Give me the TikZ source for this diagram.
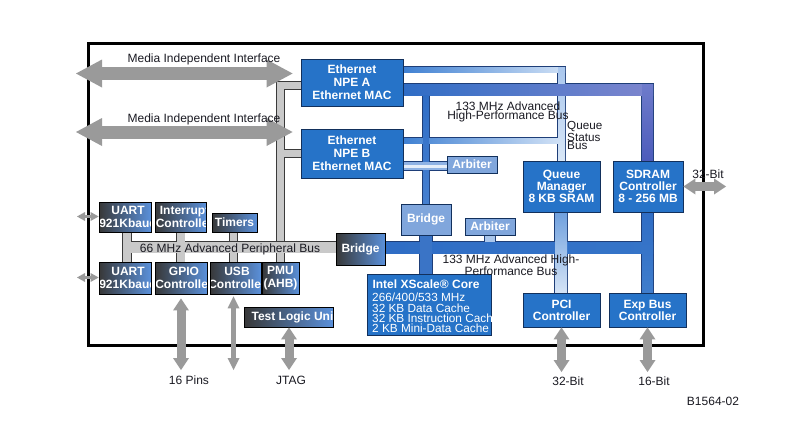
\documentclass[tikz,border=0pt]{standalone}
\usepackage{fontspec}
\setmainfont{Liberation Sans}
\usetikzlibrary{arrows.meta,calc}
\pgfdeclarelayer{buses}
\pgfsetlayers{buses,main}

\definecolor{boxblue}{HTML}{2673C8}
\definecolor{boxline}{HTML}{12305C}
\definecolor{lightbox}{HTML}{80A6DC}
\definecolor{dkL}{HTML}{383838}
\definecolor{dkR}{HTML}{5A90DA}
\definecolor{apbfill}{HTML}{C9C9C9}
\definecolor{apbline}{HTML}{3A3A3A}
\definecolor{arrowgray}{HTML}{9A9A9A}
\definecolor{busline}{HTML}{1E3E78}
\definecolor{txt}{HTML}{1A1A22}
\definecolor{qsA}{RGB}{63,128,210}
\definecolor{qsB}{RGB}{207,224,245}
\definecolor{qsC}{RGB}{169,199,238}
\definecolor{qsD}{RGB}{217,231,247}
\definecolor{bA}{RGB}{47,109,197}
\definecolor{bLight}{RGB}{221,232,246}
\definecolor{bPurp}{RGB}{126,134,206}
\definecolor{pA}{RGB}{110,123,203}
\definecolor{pB}{RGB}{76,92,187}
\definecolor{bB}{RGB}{70,128,208}
\definecolor{bC}{RGB}{53,116,200}
\definecolor{bD}{RGB}{58,116,198}
\definecolor{bE}{RGB}{169,198,236}
\definecolor{bF}{RGB}{111,160,222}
\definecolor{bG}{RGB}{213,228,246}
\definecolor{bH}{RGB}{63,125,204}
\definecolor{bI}{RGB}{143,178,228}
\definecolor{bJ}{RGB}{230,238,249}

\newcommand\cliptxt[2]{\node[text=white, align=center, inner sep=0pt, font=\bfseries\fontsize{12}{12.5}\selectfont] at ([xshift=#1]path picture bounding box.center) {#2};}

\tikzset{
  box/.style={draw=boxline, line width=0.8pt, fill=boxblue, text=white, inner sep=0pt, align=center, font=\bfseries\fontsize{12}{13}\selectfont},
  lbox/.style={box, fill=lightbox},
  dbox/.style={draw=black, line width=0.8pt, left color=dkL, right color=dkR, inner sep=0pt, text=white, align=center, font=\bfseries\fontsize{12}{12.5}\selectfont},
  lbl/.style={inner sep=0pt, text=txt, font=\fontsize{12}{12}\selectfont},
  apbO/.style={draw=apbline, line join=miter},
  apbF/.style={draw=apbfill, line join=miter},
  fatarrow/.style={draw=arrowgray, line width=13pt, {Triangle[length=26pt,width=28pt,line width=0pt]}-{Triangle[length=26pt,width=28pt,line width=0pt]}},
  midarrow/.style={draw=arrowgray, line width=9pt, {Triangle[length=12pt,width=16pt,line width=0pt]}-{Triangle[length=12pt,width=16pt,line width=0pt]}},
  slimarrow/.style={draw=arrowgray, line width=5pt, {Triangle[length=12pt,width=12pt,line width=0pt]}-{Triangle[length=12pt,width=12pt,line width=0pt]}},
  uartarrow/.style={draw=arrowgray, line width=3.5pt, {Triangle[length=8pt,width=9pt,line width=0pt]}-{Triangle[length=8pt,width=9pt,line width=0pt]}}
}

\begin{document}
\begin{tikzpicture}[x=1pt,y=-1pt]
\begin{pgfonlayer}{buses}
\fill[white] (0,0) rectangle (809,431);
\end{pgfonlayer}
\useasboundingbox (0,0) rectangle (809,431);

% ---------- blocks ----------
\path
  node[box, minimum width=102pt, minimum height=47pt] (npeA) at (352,82.5) {Ethernet\\NPE A\\Ethernet MAC}
  node[box, minimum width=102pt, minimum height=49pt] (npeB) at (352,153.5) {Ethernet\\NPE B\\Ethernet MAC}
  node[lbox, minimum width=50pt, minimum height=17pt] (arbU) at (472,164.5) {Arbiter}
  node[box, minimum width=77pt, minimum height=51pt, font=\bfseries\fontsize{12}{12}\selectfont] (qm) at (561.5,186.5) {Queue\\Manager\\8 KB SRAM}
  node[box, minimum width=70pt, minimum height=51pt, font=\bfseries\fontsize{12}{12}\selectfont] (sdram) at (648,186.5) {SDRAM\\Controller\\8 - 256 MB}
  node[lbox, minimum width=50pt, minimum height=31pt] (bridgeU) at (426,219.5) {Bridge}
  node[lbox, minimum width=50pt, minimum height=17pt] (arbL) at (490,226.5) {Arbiter}
  node[dbox, minimum width=49pt, minimum height=32pt] (bridgeL) at (360.5,249) {Bridge}
  node[box, minimum width=77pt, minimum height=34pt, font=\bfseries\fontsize{12}{12}\selectfont] (pci) at (561.5,310) {PCI\\Controller}
  node[box, minimum width=77pt, minimum height=34pt, font=\bfseries\fontsize{12}{12}\selectfont] (exp) at (647.5,310) {Exp Bus\\Controller}
  node[dbox, minimum width=52pt, minimum height=30pt, path picture={\cliptxt{3pt}{UART\\921Kbaud}}] (uart1) at (125,217) {}
  node[dbox, minimum width=51pt, minimum height=30pt, path picture={\cliptxt{4pt}{Interrupt\\Controller}}] (intc) at (180.5,217) {}
  node[dbox, minimum width=45pt, minimum height=19pt] (timers) at (234.5,222.5) {Timers}
  node[dbox, minimum width=52pt, minimum height=32pt, path picture={\cliptxt{3pt}{UART\\921Kbaud}}] (uart2) at (125,278) {}
  node[dbox, minimum width=52pt, minimum height=32pt, path picture={\cliptxt{3pt}{GPIO\\Controller}}] (gpio) at (181,278) {}
  node[dbox, minimum width=51pt, minimum height=32pt, path picture={\cliptxt{1.5pt}{USB\\Controller}}] (usb) at (235.5,278) {}
  node[dbox, minimum width=37pt, minimum height=32pt] (pmu) at (280.5,278) {PMU\\(AHB)}
  node[dbox, minimum width=89pt, minimum height=20pt, path picture={\cliptxt{6pt}{Test Logic Unit}}] (tlu) at (288.5,317) {}
  node[box, minimum width=124pt, minimum height=61pt] (xscale) at (429,304.5) {};

% XScale core text, clipped to its box
\begin{scope}
  \clip (xscale.north west) rectangle (xscale.south east);
  \node[text=white, inner sep=0pt, font=\bfseries\fontsize{12}{12}\selectfont] (xtitle) at (426,284) {Intel XScale® Core};
  \node[anchor=north west, text=white, align=left, inner sep=0pt, font=\fontsize{11.8}{10.3}\selectfont] (xbody) at (372,293) {266/400/533 MHz\\32 KB Data Cache\\32 KB Instruction Cache\\2 KB Mini-Data Cache};
\end{scope}

\begin{pgfonlayer}{buses}
% ---------- outer frame ----------
\draw[line width=3pt] (88,43) rectangle (703,345);

% ---------- 66 MHz peripheral bus (grey) ----------
\coordinate (apbL) at (123,247);
\foreach \p/\w in {O/8.4pt, F/7pt}{
  \draw[apb\p, line width=\w] ([yshift=-3pt]npeA.west) -| (pmu.north);
  \draw[apb\p, line width=\w] (npeB.west) -- (npeB.west -| pmu.north);
  \draw[apb\p, line width=\w] ([xshift=-1pt]timers.south) -- ([xshift=-1pt]timers.south |- usb.north);
}
\foreach \p/\w/\v in {O/12.4pt/9.4pt, F/11pt/8pt}{
  \draw[apb\p, line width=\w] (apbL) -- (apbL -| bridgeL.west);
  \draw[apb\p, line width=\v] ([xshift=2pt]uart1.south) -- ([xshift=2pt]uart2.north);
  \draw[apb\p, line width=\v] (intc.south) -- (intc.south |- gpio.north);
}

% ---------- blue buses: outlines ----------
\foreach \a/\b/\c/\d in {403/67/565/72, 403/138/558/143, 558/67/565/161,
  403/84/653/95, 642/84/653/161, 423/95/429/204, 385/242/653/253,
  420/235/432/274, 485/235/495/242, 555/212/567/293, 642/212/653/293, 403/162/447/170}
  \fill[busline] (\a-0.8,\b-0.8) rectangle (\c+0.8,\d+0.8);

% queue status bus
\fill[left color=qsA, right color=qsB] (403,67) rectangle (565,72);
\fill[left color=qsA, right color=qsB] (403,138) rectangle (558,143);
\fill[top color=qsC, bottom color=qsD] (558,67) rectangle (565,161);
% north AHB
\fill[left color=bA, middle color=bLight, right color=bPurp] (403,84) rectangle (653,95);
\fill[top color=pA, bottom color=pB] (642,84) rectangle (653,161);
\fill[top color=bA, bottom color=bB] (423,95) rectangle (429,204);
% south AHB
\fill[left color=bA, middle color=bLight, right color=bC] (385,242) rectangle (653,253);
\fill[bD] (420,235) rectangle (432,274);
\fill[bE] (485,235) rectangle (495,242);
\fill[top color=bF, bottom color=bG] (555,212) rectangle (567,293);
\fill[top color=bA, bottom color=bH] (642,212) rectangle (653,293);
% NPE B to arbiter link
\fill[bI] (403,162) rectangle (447,170);
\draw[bJ, line width=3pt] (npeB.east |- 0,166) -- (arbU.west |- 0,166);
\end{pgfonlayer}

% ---------- bus labels ----------
\node[lbl] (apblabel) at (230,249) {66 MHz Advanced Peripheral Bus};
\node[lbl, align=center, font=\fontsize{12}{9}\selectfont] (ahbU) at (508,111.5) {133 MHz Advanced\\High-Performance Bus};
\node[lbl, align=center, font=\fontsize{12}{9}\selectfont] (ahbL) at (511,265) {133 MHz Advanced High-\\Performance Bus};
\node[lbl, align=left, anchor=north west, font=\fontsize{11.7}{8.2}\selectfont] (qsb) at (567,121.5) {Queue\\Status\\Bus};

% ---------- external arrows ----------
\coordinate (m1L) at (76,73.5);
\coordinate (m2L) at (76,132);
\draw[fatarrow, shorten >=8pt] (m1L) -- ([yshift=9pt]npeA.west);
\draw[fatarrow, shorten >=8pt] (m2L) -- ([yshift=21.5pt]npeB.west);
\node[lbl] (mii1) at (204,59) {Media Independent Interface};
\node[lbl] (mii2) at (204,119) {Media Independent Interface};

\coordinate (u1L) at (77,216.5);
\coordinate (u2L) at (77,277.5);
\draw[uartarrow] (u1L) -- (u1L -| uart1.west);
\draw[uartarrow] (u2L) -- (u2L -| uart2.west);

\coordinate (gpioE) at (181,370);
\coordinate (usbE) at (233.5,370);
\coordinate (jtagE) at (289,370);
\coordinate (pciE) at (561.5,372);
\coordinate (expE) at (647.5,372);
\coordinate (sdE) at (726,186.5);
\draw[midarrow, shorten <=4pt] (gpio.south) -- (gpioE);
\draw[slimarrow, shorten <=2pt] ([xshift=-2pt]usb.south) -- (usbE);
\draw[midarrow] ([xshift=0.5pt]tlu.south) -- (jtagE);
\draw[midarrow] (pci.south) -- (pciE);
\draw[midarrow] (exp.south) -- (expE);
\draw[midarrow] (sdram.east) -- (sdE);

\node[lbl] (pins) at (189,380) {16 Pins};
\node[lbl] (jtag) at (291,380) {JTAG};
\node[lbl] (pcibits) at (568,381) {32-Bit};
\node[lbl] (expbits) at (654,381) {16-Bit};
\node[lbl] (sdbits) at (708,174) {32-Bit};
\node[lbl] (fig) at (713,401) {B1564-02};
\end{tikzpicture}
\end{document}
